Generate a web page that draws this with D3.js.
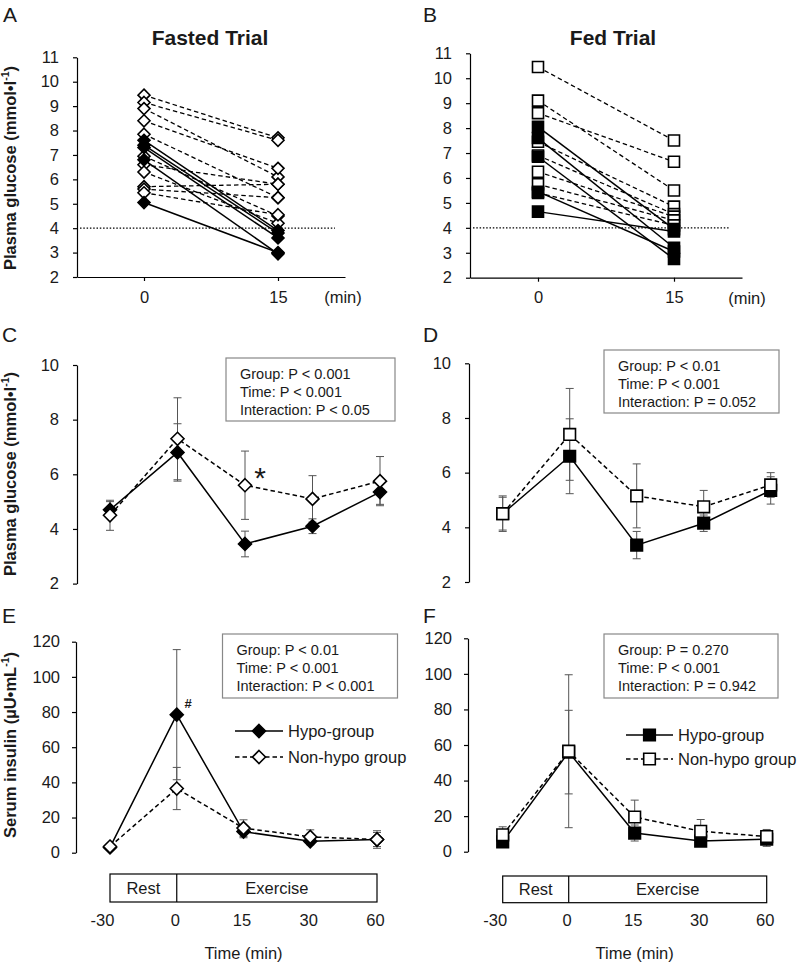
<!DOCTYPE html>
<html><head><meta charset="utf-8">
<script src="https://cdn.jsdelivr.net/npm/d3@7"></script>
<style>
html,body{margin:0;padding:0;background:#fff;}
svg{display:block;font-family:'Liberation Sans',Arial,sans-serif;}
</style></head>
<body>
<svg id="chart" width="800" height="965"></svg>
<script>
// ---------- DATA ----------
// Panels A/B: individual subjects at 0 and 15 min (mmol/l)
const fastedHypo0  = [7.6, 7.4, 7.3, 6.8, 5.05];
const fastedHypo15 = [3.9, 3.8, 3.6, 2.95, 3.0];
const fastedNon0   = [9.45, 9.15, 8.9, 8.4, 7.85, 6.95, 6.6, 6.3, 5.7, 5.6, 5.45];
const fastedNon15  = [7.7, 7.6, 6.1, 6.45, 5.25, 4.5, 5.8, 4.2, 5.8, 5.25, 4.55];
const fedHypo0  = [8.05, 7.6, 6.85, 5.45, 4.65];
const fedHypo15 = [3.95, 3.2, 2.75, 3.05, 3.85];
const fedNon0   = [10.45, 9.1, 8.6, 7.45, 6.9, 6.25, 5.75, 5.4];
const fedNon15  = [7.5, 5.5, 6.65, 4.85, 4.55, 4.45, 4.3, 4.1];
const glucoseTicksAB = [2,3,4,5,6,7,8,9,10,11];
const hypoThreshold = 4;

// Panels C-F: time course
const times = ["-30","0","15","30","60"];
const fastGluHypo = [4.7, 6.8, 3.45, 4.1, 5.35];
const fastGluHypoSD = [0.3, 1.05, 0.47, 0.27, 0.45];
const fastGluNon = [4.5, 7.3, 5.6, 5.1, 5.75];
const fastGluNonSD = [0.55, 1.5, 1.25, 0.85, 0.9];
const fedGluHypo = [4.5, 6.6, 3.35, 4.15, 5.35];
const fedGluHypoSD = [0.6, 1.37, 0.5, 0.3, 0.5];
const fedGluNon = [4.5, 7.4, 5.15, 4.75, 5.55];
const fedGluNonSD = [0.65, 1.68, 1.17, 0.6, 0.45];
const fastInsHypo = [3, 78.5, 12, 6.5, 7.5];
const fastInsHypoSD = [1, 37, 3.5, 2, 4];
const fastInsNon = [3.5, 36.5, 14, 9, 7.5];
const fastInsNonSD = [1, 12, 4.7, 4, 5];
const fedInsHypo = [5.5, 56, 10.5, 6, 7];
const fedInsHypoSD = [2, 23.5, 4.5, 1.5, 4];
const fedInsNon = [9.5, 56.5, 19.5, 11.5, 8.5];
const fedInsNonSD = [4.5, 43, 9.5, 6.6, 4];
const glucoseTicksCD = [2,4,6,8,10];
const insulinTicks = [0,20,40,60,80,100,120];

const statsC = ["Group: P < 0.001","Time: P < 0.001","Interaction: P < 0.05"];
const statsD = ["Group: P < 0.01","Time: P < 0.001","Interaction: P = 0.052"];
const statsE = ["Group: P < 0.01","Time: P < 0.001","Interaction: P < 0.001"];
const statsF = ["Group: P = 0.270","Time: P < 0.001","Interaction: P = 0.942"];
const legendLabels = ["Hypo-group","Non-hypo group"];

// ---------- HELPERS ----------
const svg = d3.select("#chart");
const TXT = "#1a1a1a";
const diamond = r => `M0,${-r}L${r},0L0,${r}L${-r},0Z`;
const square = r => `M${-r},${-r}H${r}V${r}H${-r}Z`;

function marker(g, shape, x, y, filled, r) {
  g.append("path").attr("d", shape === "d" ? diamond(r) : square(r))
    .attr("transform", `translate(${x},${y})`)
    .attr("fill", filled ? "#000" : "#fff")
    .attr("stroke", "#000").attr("stroke-width", 1.6);
}

function letter(t, x, y) {
  svg.append("text").attr("x", x).attr("y", y).attr("font-size", 21).attr("fill", TXT).text(t);
}

function yLabel(parts, cx, cy) {
  const t = svg.append("text").attr("transform", `translate(${cx},${cy}) rotate(-90)`)
    .attr("text-anchor", "middle").attr("dy", "0.35em")
    .attr("font-size", 16.5).attr("font-weight", "bold").attr("fill", TXT);
  t.append("tspan").text(parts[0]);
  t.append("tspan").attr("font-size", 10.5).attr("dy", "-0.6em").text(parts[1]);
  t.append("tspan").attr("dy", "0.4em").text(parts[2]);
}

function styleAxis(g) {
  g.selectAll("path,line").attr("stroke", "#000").attr("stroke-width", 1.2);
  g.selectAll("text").attr("font-size", 16.5).attr("fill", TXT).attr("font-family", "'Liberation Sans',Arial,sans-serif");
}

// ---------- PANELS A / B ----------
function scatterPanel(o) {
  const y = d3.scaleLinear().domain([2, 11]).range([o.yBot, o.yTop]);
  const x = d3.scaleLinear().domain([-7.5, 22.5]).range(o.xr);
  const gy = svg.append("g").attr("transform", `translate(${o.xr[0]},0)`)
    .call(d3.axisLeft(y).tickValues(glucoseTicksAB).tickSize(4).tickSizeOuter(0).tickPadding(14));
  styleAxis(gy);
  const gx = svg.append("g").attr("transform", `translate(0,${o.yBot})`)
    .call(d3.axisBottom(x).tickValues([0, 15]).tickSize(4).tickSizeOuter(0).tickPadding(10));
  styleAxis(gx);
  svg.append("text").attr("x", o.minX).attr("y", o.yBot + 26).attr("text-anchor", "middle")
    .attr("font-size", 16.5).attr("fill", TXT).text("(min)");
  svg.append("line").attr("x1", o.xr[0] + 3).attr("x2", o.dotEnd)
    .attr("y1", y(hypoThreshold)).attr("y2", y(hypoThreshold))
    .attr("stroke", "#000").attr("stroke-width", 1.3).attr("stroke-dasharray", "1.5,1.8");
  svg.append("text").attr("x", o.titleX).attr("y", 45).attr("text-anchor", "middle")
    .attr("font-size", 21).attr("font-weight", "bold").attr("fill", TXT).text(o.title);
  const g = svg.append("g");
  o.non0.forEach((v, i) => g.append("line").attr("x1", x(0)).attr("y1", y(v)).attr("x2", x(15)).attr("y2", y(o.non15[i]))
    .attr("stroke", "#000").attr("stroke-width", 1.3).attr("stroke-dasharray", "4.5,3"));
  o.hypo0.forEach((v, i) => g.append("line").attr("x1", x(0)).attr("y1", y(v)).attr("x2", x(15)).attr("y2", y(o.hypo15[i]))
    .attr("stroke", "#000").attr("stroke-width", 1.5));
  o.non0.forEach((v, i) => { marker(g, o.shape, x(0), y(v), false, o.r); marker(g, o.shape, x(15), y(o.non15[i]), false, o.r); });
  o.hypo0.forEach((v, i) => { marker(g, o.shape, x(0), y(v), true, o.r); marker(g, o.shape, x(15), y(o.hypo15[i]), true, o.r); });
}

scatterPanel({xr:[77,345], yTop:57.3, yBot:277, minX:343, dotEnd:335, titleX:210, title:"Fasted Trial",
  hypo0:fastedHypo0, hypo15:fastedHypo15, non0:fastedNon0, non15:fastedNon15, shape:"d", r:6});
scatterPanel({xr:[470,742], yTop:53.3, yBot:277.7, minX:747, dotEnd:730, titleX:613, title:"Fed Trial",
  hypo0:fedHypo0, hypo15:fedHypo15, non0:fedNon0, non15:fedNon15, shape:"s", r:5.5});

// ---------- PANELS C-F ----------
function timePanel(o) {
  const y = d3.scaleLinear().domain(o.dom).range([o.yBot, o.yTop]);
  const x = d3.scalePoint().domain(times).range(o.xr);
  const gy = svg.append("g").attr("transform", `translate(${o.ax},0)`)
    .call(d3.axisLeft(y).tickValues(o.ticks).tickSize(4).tickSizeOuter(0).tickPadding(o.pad));
  styleAxis(gy);
  const g = svg.append("g");
  const series = [
    {m:o.hypo, sd:o.hypoSD, filled:true, dash:null},
    {m:o.non, sd:o.nonSD, filled:false, dash:"4.5,3"}
  ];
  series.forEach(s => {
    s.m.forEach((v, i) => {
      const cx = x(times[i]);
      const lo = y(Math.max(o.dom[0], v - s.sd[i])), hi = y(v + s.sd[i]);
      g.append("line").attr("x1", cx).attr("x2", cx).attr("y1", lo).attr("y2", hi).attr("stroke", "#555").attr("stroke-width", 1);
      [lo, hi].forEach(yy => g.append("line").attr("x1", cx - 4).attr("x2", cx + 4).attr("y1", yy).attr("y2", yy).attr("stroke", "#555").attr("stroke-width", 1));
    });
  });
  series.forEach(s => {
    const line = d3.line().x((d, i) => x(times[i])).y(d => y(d));
    g.append("path").attr("d", line(s.m)).attr("fill", "none").attr("stroke", "#000")
      .attr("stroke-width", 1.5).attr("stroke-dasharray", s.dash);
  });
  series.forEach(s => s.m.forEach((v, i) => marker(g, o.shape, x(times[i]), y(v), s.filled, o.shape === "d" ? 6.5 : 5.8)));
  // stats box
  svg.append("rect").attr("x", o.box[0]).attr("y", o.box[1]).attr("width", o.box[2]).attr("height", o.box[3])
    .attr("fill", "#fff").attr("stroke", "#888").attr("stroke-width", 1.2);
  o.stats.forEach((t, i) => svg.append("text").attr("x", o.box[0] + 14).attr("y", o.box[1] + 21 + i * 17.8)
    .attr("font-size", 14.5).attr("fill", TXT).text(t));
  return {x, y};
}

function timeAxis(x, yTop, yBot, labelY) {
  const x0 = x("-30"), x1 = x("60"), xm = x("0");
  svg.append("rect").attr("x", x0).attr("y", yTop).attr("width", x1 - x0).attr("height", yBot - yTop)
    .attr("fill", "#fff").attr("stroke", "#000").attr("stroke-width", 1.2);
  svg.append("line").attr("x1", xm).attr("x2", xm).attr("y1", yTop).attr("y2", yBot).attr("stroke", "#000").attr("stroke-width", 1.2);
  const mid = (yTop + yBot) / 2 + 6;
  svg.append("text").attr("x", (x0 + xm) / 2).attr("y", mid).attr("text-anchor", "middle").attr("font-size", 16.5).attr("fill", TXT).text("Rest");
  svg.append("text").attr("x", (xm + x1) / 2).attr("y", mid).attr("text-anchor", "middle").attr("font-size", 16.5).attr("fill", TXT).text("Exercise");
  const gx = svg.append("g").attr("transform", `translate(0,${yBot})`)
    .call(d3.axisBottom(x).tickSize(0).tickPadding(12));
  gx.select(".domain").remove();
  styleAxis(gx);
  gx.selectAll(".tick text").attr("dx", d => d === "-30" ? -8 : -2);
  svg.append("text").attr("x", x("15")).attr("y", labelY).attr("text-anchor", "middle")
    .attr("font-size", 16.5).attr("fill", TXT).text("Time (min)");
}

function legend(x0, x1, xt, y1, y2, shape) {
  [[y1, true, null, legendLabels[0]], [y2, false, "4.5,3", legendLabels[1]]].forEach(([yy, filled, dash, lab]) => {
    svg.append("line").attr("x1", x0).attr("x2", x1).attr("y1", yy).attr("y2", yy)
      .attr("stroke", "#000").attr("stroke-width", 1.5).attr("stroke-dasharray", dash);
    marker(svg, shape, (x0 + x1) / 2, yy, filled, shape === "d" ? 6.5 : 5.8);
    svg.append("text").attr("x", xt).attr("y", yy + 6).attr("font-size", 16.5).attr("fill", TXT).text(lab);
  });
}

timePanel({ax:77, yTop:365, yBot:583.6, dom:[2,10], ticks:glucoseTicksCD, pad:14, xr:[110,380], shape:"d",
  hypo:fastGluHypo, hypoSD:fastGluHypoSD, non:fastGluNon, nonSD:fastGluNonSD,
  box:[226,358,169,63], stats:statsC});
timePanel({ax:469, yTop:363.3, yBot:582, dom:[2,10], ticks:glucoseTicksCD, pad:14, xr:[502.7,770.7], shape:"s",
  hypo:fedGluHypo, hypoSD:fedGluHypoSD, non:fedGluNon, nonSD:fedGluNonSD,
  box:[604,350,175,63], stats:statsD});
const E = timePanel({ax:76, yTop:641.7, yBot:852.7, dom:[0,120], ticks:insulinTicks, pad:12, xr:[110,377], shape:"d",
  hypo:fastInsHypo, hypoSD:fastInsHypoSD, non:fastInsNon, nonSD:fastInsNonSD,
  box:[222.5,634,175,64], stats:statsE});
const F = timePanel({ax:468, yTop:638.3, yBot:851.7, dom:[0,120], ticks:insulinTicks, pad:12, xr:[502.7,766.7], shape:"s",
  hypo:fedInsHypo, hypoSD:fedInsHypoSD, non:fedInsNon, nonSD:fedInsNonSD,
  box:[604,634,174,64], stats:statsF});

timeAxis(E.x, 874, 902, 959);
timeAxis(F.x, 876, 902.7, 959);
legend(235, 283, 288, 731, 757, "d");
legend(626, 673, 678, 735, 759, "s");

// significance marks
svg.append("text").attr("x", 260).attr("y", 488).attr("text-anchor", "middle").attr("font-size", 30).attr("fill", TXT).text("*");
svg.append("text").attr("x", 188).attr("y", 708).attr("text-anchor", "middle").attr("font-size", 13).attr("font-weight", "bold").attr("fill", TXT).text("#");

// y labels
yLabel(["Plasma glucose (mmol\u2022l", "-1", ")"], 10, 168);
yLabel(["Plasma glucose (mmol\u2022l", "-1", ")"], 10, 474);
yLabel(["Serum insulin (\u00b5U\u2022mL", "-1", ")"], 10, 745);

// panel letters
letter("A", 3, 22); letter("B", 423, 22);
letter("C", 2, 342); letter("D", 423, 342);
letter("E", 2, 623); letter("F", 423, 623);
</script>
</body></html>
